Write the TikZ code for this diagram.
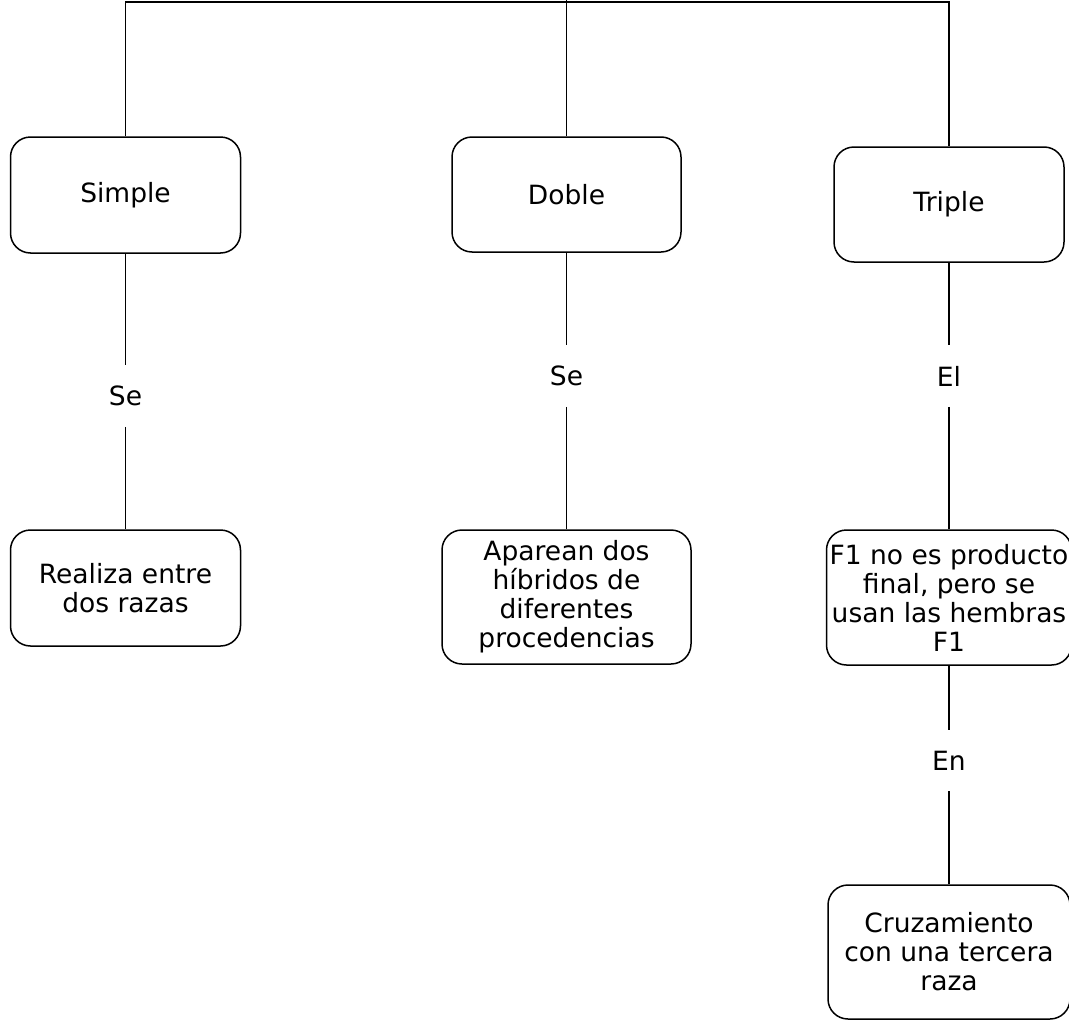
\documentclass[tikz,border=0pt]{standalone}
\usepackage{fontspec}
\setmainfont{DejaVu Sans}
\usepackage{tikz}

\begin{document}
\begin{tikzpicture}[x=1pt, y=-1pt, line width=1.5pt,
  box/.style={draw, rounded corners=20, align=center, inner sep=0pt,
    minimum width=230, minimum height=116, font=\fontsize{26.5}{29}\selectfont},
  lbl/.style={inner sep=0pt, minimum height=60, font=\fontsize{26.5}{29}\selectfont}]
\useasboundingbox (0,0) rectangle (1069,1028);

\coordinate (top) at (566.5,-5);
\coordinate (bus) at (566.5,2);

\node[box] (simple) at (125.5,195) {Simple};
\node[box, minimum width=229, minimum height=115] (doble) at (566.5,194.5) {Doble};
\node[box, minimum height=115] (triple) at (949,204.5) {Triple};

\node[lbl] (se1) at (125.5,396) {Se};
\node[lbl] (se2) at (566.5,376) {Se};
\node[lbl] (el) at (949,376) {El};

\node[box] (realiza) at (125.5,588) {Realiza entre\\dos razas};
\node[box, minimum width=249, minimum height=134] (aparean) at (566.5,597) {Aparean dos\\híbridos de\\diferentes\\procedencias};
\node[box, minimum width=245, minimum height=135] (f1) at (949,597.5) {F1 no es producto\\final, pero se\\usan las hembras\\F1};

\node[lbl] (en) at (949,760.5) {En};
\node[box, minimum width=242, minimum height=134] (cruza) at (949,952) {Cruzamiento\\con una tercera\\raza};

\draw (top) -- (doble);
\draw (simple) |- (bus) -| (triple);

\draw (simple) -- (se1) -- (realiza);
\draw (doble) -- (se2) -- (aparean);
\draw (triple) -- (el) -- (f1);
\draw (f1) -- (en) -- (cruza);
\end{tikzpicture}
\end{document}
